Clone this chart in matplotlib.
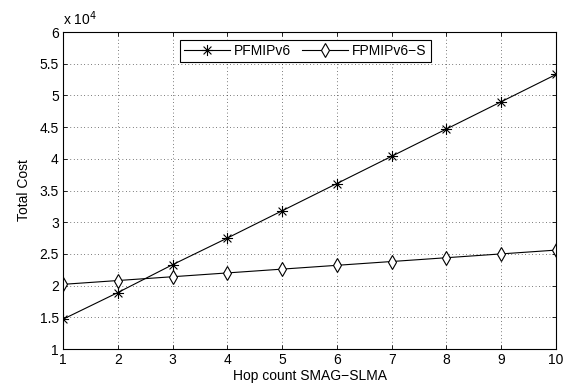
import matplotlib
matplotlib.use("Agg")
import matplotlib.pyplot as plt
from matplotlib.path import Path

hops = [1, 2, 3, 4, 5, 6, 7, 8, 9, 10]
pfmipv6 = [14700, 18900, 23300, 27500, 31800, 36100, 40400, 44700, 49000, 53300]
fpmipv6_s = [20200, 20800, 21400, 22000, 22600, 23200, 23800, 24400, 25000, 25600]
y_ticks = [1, 1.5, 2, 2.5, 3, 3.5, 4, 4.5, 5, 5.5, 6]

plt.rcParams["font.family"] = ["Liberation Sans", "DejaVu Sans"]
plt.rcParams["font.size"] = 10

# matlab-like asterisk: + and x strokes
d = 0.7071
star = Path([(-1, 0), (1, 0), (0, -1), (0, 1), (-d, -d), (d, d), (-d, d), (d, -d)],
            [Path.MOVETO, Path.LINETO] * 4)

fig = plt.figure(figsize=(5.74, 3.88), dpi=100)
ax = fig.add_axes([0.1098, 0.1005, 0.8588, 0.817])

scale = 1e4
ax.plot(hops, [v / scale for v in pfmipv6], color="black", lw=0.8,
        marker=star, ms=8, mfc="none", mew=0.8, label="PFMIPv6")
ax.plot(hops, [v / scale for v in fpmipv6_s], color="black", lw=0.8,
        marker="d", ms=7.5, mfc="white", mew=0.8, label="FPMIPv6\u2212S")

ax.set_xlim(1, 10)
ax.set_ylim(1, 6)
ax.set_xticks(hops)
ax.set_yticks(y_ticks)
ax.set_yticklabels([f"{t:g}" for t in y_ticks])
ax.tick_params(direction="in", top=True, right=True, length=3, width=0.6, pad=3)
ax.grid(True, color="black", linestyle=(0, (1, 4)), linewidth=0.5)
for sp in ax.spines.values():
    sp.set_linewidth(0.8)

ax.set_xlabel("Hop count SMAG\u2212SLMA", labelpad=1)
ax.set_ylabel("Total Cost", labelpad=6)
ax.text(0.0, 1.012, "x 10$^{4}$", transform=ax.transAxes, ha="left", va="bottom")

leg = ax.legend(loc="upper left", bbox_to_anchor=(0.237, 0.975), ncol=2,
                fancybox=False, edgecolor="black", framealpha=1,
                handlelength=3.3, borderpad=0.3, columnspacing=0.8,
                handletextpad=0.3, borderaxespad=0)
leg.get_frame().set_linewidth(0.8)

fig.savefig("out.png", dpi=100)
